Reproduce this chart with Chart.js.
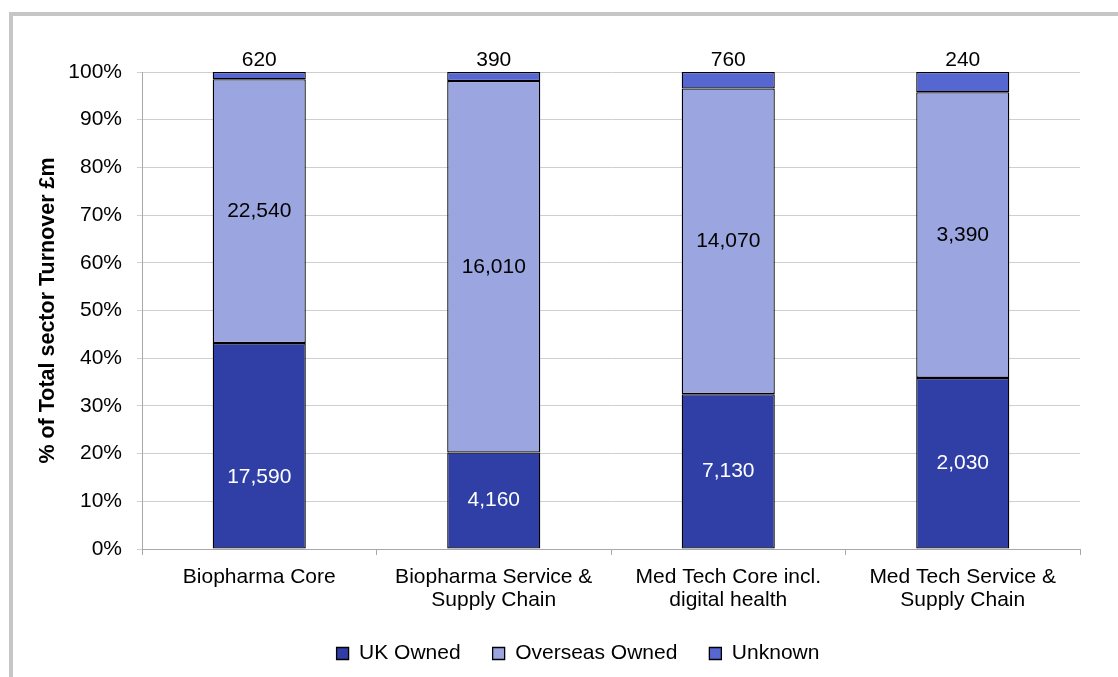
<!DOCTYPE html>
<html>
<head>
<meta charset="utf-8">
<title>Sector turnover by ownership</title>
<script src="https://cdn.jsdelivr.net/npm/chart.js@4.4.1/dist/chart.umd.min.js"></script>
<style>
  html, body { margin: 0; padding: 0; background: #fff; }
  #wrap { position: relative; width: 1118px; height: 677px; overflow: hidden; }
  #frame {
    position: absolute; left: 9px; top: 12px; width: 1300px; height: 900px;
    border-left: 4px solid #c6c6c6; border-top: 4px solid #c6c6c6;
  }
  #turnoverChart { position: absolute; left: 0; top: 0; }
</style>
</head>
<body>
<div id="wrap">
  <div id="frame"></div>
  <canvas id="turnoverChart" width="1118" height="677"></canvas>
</div>
<script>
// Turnover (£m) by ownership for each sector segment
const categories = [
    ['Biopharma Core'],
    ['Biopharma Service &', 'Supply Chain'],
    ['Med Tech Core incl.', 'digital health'],
    ['Med Tech Service &', 'Supply Chain']
];
const ukOwned = [17590, 4160, 7130, 2030];
const overseasOwned = [22540, 16010, 14070, 3390];
const unknownOwned = [620, 390, 760, 240];
const seriesNames = ['UK Owned', 'Overseas Owned', 'Unknown'];

const totals = ukOwned.map((v, i) => v + overseasOwned[i] + unknownOwned[i]);
const toShare = arr => arr.map((v, i) => v / totals[i] * 100);

const FONT = '"Liberation Sans", Arial, sans-serif';
Chart.defaults.font.family = FONT;
Chart.defaults.font.size = 21;
Chart.defaults.color = '#000';

// writes the £m figure on each segment; "Unknown" goes above the bar
const segmentLabels = {
    id: 'segmentLabels',
    afterDatasetsDraw(chart, args, opts) {
        const ctx = chart.ctx;
        const raw = [ukOwned, overseasOwned, unknownOwned];
        ctx.save();
        ctx.font = '21px ' + FONT;
        ctx.textAlign = 'center';
        ctx.textBaseline = 'middle';
        chart.data.datasets.forEach((ds, d) => {
            chart.getDatasetMeta(d).data.forEach((bar, i) => {
                const text = raw[d][i].toLocaleString('en-GB');
                const y = d === 2 ? bar.y - 12 : (bar.y + bar.base) / 2;
                const nudge = (opts.nudge[d] || {})[i] || 0;
                ctx.fillStyle = d === 0 ? '#fff' : '#000';
                ctx.fillText(text, bar.x, y + nudge);
            });
        });
        ctx.restore();
    }
};

// moves the legend row off the default centred spot
const legendShift = {
    id: 'legendShift',
    afterLayout(chart, args, opts) {
        const lg = chart.legend;
        if (!lg) return;
        lg.left += opts.dx;
        lg.right += opts.dx;
        lg.top += opts.dy;
        lg.bottom += opts.dy;
    }
};

new Chart(document.getElementById('turnoverChart'), {
    type: 'bar',
    data: {
        labels: categories,
        datasets: [
            { label: seriesNames[0], data: toShare(ukOwned), backgroundColor: '#2f3fa6' },
            { label: seriesNames[1], data: toShare(overseasOwned), backgroundColor: '#9ba6e0' },
            { label: seriesNames[2], data: toShare(unknownOwned), backgroundColor: '#5667d1' }
        ].map(ds => Object.assign(ds, {
            borderColor: '#000',
            borderWidth: 1.3,
            borderSkipped: false,
            categoryPercentage: 1,
            barPercentage: 0.397
        }))
    },
    options: {
        responsive: false,
        animation: false,
        layout: { padding: { top: 72, right: 38, left: 0, bottom: 0 } },
        scales: {
            x: {
                stacked: true,
                grid: { drawOnChartArea: false, offset: true, tickLength: 6, color: '#a8a8a8' },
                border: { color: '#a8a8a8' },
                ticks: { padding: 11, font: { size: 21, lineHeight: 1.1 }, color: '#000' },
                afterFit(scale) { scale.height = 65; }
            },
            y: {
                stacked: true,
                min: 0,
                max: 100,
                grid: { color: '#cfcfcf', tickLength: 5 },
                border: { color: '#a8a8a8' },
                ticks: { stepSize: 10, padding: 15, color: '#000', callback: v => v + '%' },
                title: {
                    display: true,
                    text: '% of Total sector Turnover £m',
                    font: { size: 21.5, weight: 'bold', lineHeight: 1.2 },
                    padding: { top: 35, bottom: 0 },
                    color: '#000'
                },
                afterFit(scale) { scale.width = 142; }
            }
        },
        plugins: {
            legend: {
                position: 'bottom',
                labels: { boxWidth: 12, boxHeight: 12, padding: 32, color: '#000', font: { size: 21 } }
            },
            tooltip: { enabled: false },
            segmentLabels: { nudge: { 0: { 0: 31 } } },
            legendShift: { dx: 38, dy: -3 }
        }
    },
    plugins: [segmentLabels, legendShift]
});
</script>
</body>
</html>
